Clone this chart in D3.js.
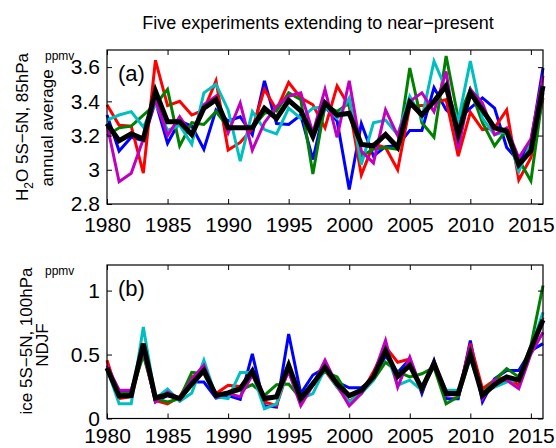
<!DOCTYPE html>
<html>
<head>
<meta charset="utf-8">
<script src="https://cdn.jsdelivr.net/npm/d3@7/dist/d3.min.js"></script>
<style>
  html, body { margin: 0; padding: 0; background: #fff; }
  svg { display: block; font-family: "Liberation Sans", Arial, Helvetica, sans-serif; }
</style>
</head>
<body>
<svg id="chart" width="556" height="448"></svg>
<script>
// Years of the five runs
const years = [1980,1981,1982,1983,1984,1985,1986,1987,1988,1989,1990,1991,1992,
               1993,1994,1995,1996,1997,1998,1999,2000,2001,2002,2003,2004,
               2005,2006,2007,2008,2009,2010,2011,2012,2013,2014,2015,2016];

// (a) H2O 5S-5N at 85 hPa, annual average (ppmv)
const h2oBlue = [3.32,3.11,3.19,3.17,3.40,3.155,3.285,3.255,3.12,3.35,3.285,3.31,3.205,
                 3.52,3.27,3.265,3.32,3.06,3.37,3.285,2.885,3.27,3.08,3.135,3.14,
                 3.23,3.23,3.48,3.35,3.29,3.36,3.42,3.36,3.13,3.05,3.16,3.595];
const h2oRed = [3.38,3.26,3.255,2.98,3.64,3.375,3.40,3.32,3.35,3.52,3.115,3.16,3.24,
                3.47,3.35,3.51,3.42,3.38,3.245,3.49,3.37,2.97,3.15,3.13,3.00,
                3.37,3.375,3.39,3.41,3.08,3.336,3.235,3.245,3.35,2.94,3.07,3.42];
const h2oGreen = [3.20,3.245,3.255,3.32,3.38,3.47,3.14,3.275,3.265,3.34,3.25,3.245,3.245,
                  3.33,3.345,3.45,3.41,2.975,3.38,3.34,3.39,3.08,3.12,3.13,3.12,
                  3.595,3.275,3.19,3.665,3.30,3.47,3.275,3.14,3.235,3.06,2.935,3.45];
const h2oCyan = [3.29,3.32,3.34,3.25,3.39,3.23,3.26,3.15,3.45,3.50,3.35,3.05,3.34,
                 3.235,3.21,3.36,3.30,3.36,3.37,3.30,3.42,3.03,3.275,3.29,3.205,
                 3.43,3.30,3.635,3.47,3.285,3.635,3.30,3.205,3.225,2.99,3.16,3.49];
const h2oMagenta = [3.265,2.93,2.98,3.18,3.41,3.20,3.31,3.205,3.38,3.43,3.215,3.39,3.115,
                    3.275,3.37,3.43,3.45,3.215,3.47,3.19,3.52,3.11,3.04,3.35,3.20,
                    3.40,3.45,3.34,3.575,3.12,3.47,3.39,3.205,3.245,3.07,3.18,3.55];
const h2oMean = [3.27,3.17,3.21,3.18,3.46,3.28,3.28,3.205,3.36,3.41,3.245,3.245,3.245,
                 3.36,3.30,3.406,3.345,3.195,3.39,3.32,3.33,3.148,3.14,3.206,3.13,
                 3.395,3.32,3.40,3.49,3.206,3.45,3.35,3.245,3.226,3.03,3.11,3.49];

// (b) ice 5S-5N at 100 hPa, NDJF (ppmv)
const iceBlue = [0.40,0.22,0.21,0.56,0.13,0.18,0.155,0.285,0.285,0.16,0.18,0.15,0.505,
                 0.10,0.09,0.66,0.195,0.34,0.395,0.285,0.24,0.24,0.31,0.49,0.36,
                 0.465,0.195,0.455,0.155,0.155,0.61,0.13,0.31,0.375,0.375,0.53,0.585];
const iceRed = [0.455,0.155,0.17,0.52,0.14,0.115,0.17,0.325,0.36,0.195,0.26,0.25,0.34,
                0.13,0.10,0.39,0.17,0.26,0.375,0.245,0.135,0.195,0.365,0.56,0.44,
                0.465,0.22,0.44,0.195,0.18,0.585,0.233,0.30,0.325,0.26,0.53,0.79];
const iceGreen = [0.39,0.195,0.20,0.495,0.155,0.13,0.155,0.36,0.35,0.17,0.195,0.22,0.265,
                  0.18,0.265,0.27,0.155,0.285,0.365,0.325,0.17,0.205,0.30,0.44,0.365,
                  0.325,0.35,0.40,0.115,0.17,0.48,0.195,0.30,0.39,0.325,0.57,1.04];
const iceCyan = [0.39,0.115,0.115,0.715,0.155,0.23,0.135,0.20,0.455,0.17,0.155,0.36,0.36,
                 0.077,0.115,0.39,0.155,0.195,0.39,0.245,0.13,0.195,0.30,0.53,0.26,
                 0.30,0.22,0.415,0.22,0.22,0.465,0.195,0.245,0.285,0.30,0.545,0.83];
const iceMagenta = [0.415,0.22,0.22,0.53,0.13,0.207,0.155,0.31,0.415,0.17,0.195,0.17,0.34,
                    0.17,0.17,0.365,0.10,0.26,0.455,0.26,0.10,0.195,0.34,0.61,0.245,
                    0.48,0.22,0.44,0.18,0.195,0.57,0.155,0.30,0.30,0.233,0.505,0.675];
const iceMean = [0.395,0.176,0.18,0.585,0.16,0.186,0.155,0.27,0.376,0.18,0.20,0.233,0.37,
                 0.155,0.17,0.415,0.155,0.27,0.40,0.27,0.18,0.22,0.325,0.53,0.33,
                 0.415,0.233,0.43,0.195,0.195,0.505,0.18,0.265,0.325,0.30,0.545,0.77];

// Tick values
const xTicks = [1980,1985,1990,1995,2000,2005,2010,2015];
const yTicksA = [2.8,3.0,3.2,3.4,3.6];
const yTicksB = [0,0.5,1.0];

const runColors = ["#0000ff","#ff0000","#008000","#00bfbf","#bf00bf"];

const svg = d3.select("#chart");
const left = 107, right = 543;
const x = d3.scaleLinear().domain([1980, 2016]).range([left, right]);

const panels = [
  { label: "(a)", runs: [h2oBlue, h2oRed, h2oGreen, h2oCyan, h2oMagenta], mean: h2oMean,
    y: d3.scaleLinear().domain([2.8, 3.7]).range([204, 50]), yTicks: yTicksA, pad: 13,
    fmt: d => (d === 3 ? "3" : d3.format(".1f")(d)) },
  { label: "(b)", runs: [iceBlue, iceRed, iceGreen, iceCyan, iceMagenta], mean: iceMean,
    y: d3.scaleLinear().domain([0, 1.2]).range([418.5, 265]), yTicks: yTicksB, pad: 10,
    fmt: d => (d === 0 ? "0" : d === 1 ? "1" : String(d)) }
];

panels.forEach(p => {
  const [yBot, yTop] = p.y.range();
  const g = svg.append("g");

  // Series lines
  const line = d3.line().x((d, i) => x(years[i])).y(d => p.y(d));
  const plot = g.append("g");
  p.runs.forEach((s, k) => {
    plot.append("path").datum(s).attr("d", line)
      .attr("fill", "none").attr("stroke", runColors[k])
      .attr("stroke-width", 3).attr("stroke-linejoin", "miter");
  });
  plot.append("path").datum(p.mean).attr("d", line)
    .attr("fill", "none").attr("stroke", "#000")
    .attr("stroke-width", 5).attr("stroke-linejoin", "miter");

  // Axes with inward ticks on all four sides
  const bottom = d3.axisBottom(x).tickValues(xTicks).tickFormat(d3.format("d"))
    .tickSizeInner(-5).tickSizeOuter(0).tickPadding(p.pad);
  const top = d3.axisTop(x).tickValues(xTicks).tickFormat("")
    .tickSizeInner(-5).tickSizeOuter(0);
  const leftAx = d3.axisLeft(p.y).tickValues(p.yTicks).tickFormat(p.fmt)
    .tickSizeInner(-5).tickSizeOuter(0).tickPadding(7);
  const rightAx = d3.axisRight(p.y).tickValues(p.yTicks).tickFormat("")
    .tickSizeInner(-5).tickSizeOuter(0);

  const axes = [
    g.append("g").attr("transform", `translate(0,${yBot})`).call(bottom),
    g.append("g").attr("transform", `translate(0,${yTop})`).call(top),
    g.append("g").attr("transform", `translate(${left},0)`).call(leftAx),
    g.append("g").attr("transform", `translate(${right},0)`).call(rightAx)
  ];
  axes.forEach(a => {
    a.select(".domain").remove();
    a.selectAll(".tick line").attr("stroke", "#000").attr("stroke-width", 1);
    a.selectAll(".tick text").attr("fill", "#000")
      .style("font-size", "21px").style("font-family", "'Liberation Sans', Arial, sans-serif");
  });

  // Frame
  g.append("rect").attr("x", left).attr("y", yTop)
    .attr("width", right - left).attr("height", yBot - yTop)
    .attr("fill", "none").attr("stroke", "#000").attr("stroke-width", 1.2);

  // Panel letter
  g.append("text").attr("x", left + 11).attr("y", yTop + 31)
    .style("font-size", "22px").text(p.label);

  // Units
  g.append("text").attr("x", 45).attr("y", yTop + 10)
    .style("font-size", "12px").text("ppmv");
});

// Y-axis titles
const yTitle = (cx, cy, build) => {
  const t = svg.append("text")
    .attr("transform", `translate(${cx},${cy}) rotate(-90)`)
    .attr("text-anchor", "middle").style("font-size", "17px");
  build(t);
};
yTitle(28, 127, t => {
  t.append("tspan").text("H");
  t.append("tspan").attr("dy", 5).style("font-size", "12px").text("2");
  t.append("tspan").attr("dy", -5).text("O 5S\u22125N, 85hPa");
});
yTitle(53, 128, t => t.text("annual average"));
yTitle(32, 341, t => t.text("ice 5S\u22125N, 100hPa"));
yTitle(48, 345, t => t.text("NDJF"));

// Title
svg.append("text").attr("x", 318).attr("y", 29).attr("text-anchor", "middle")
  .style("font-size", "18px").text("Five experiments extending to near\u2212present");
</script>
</body>
</html>
